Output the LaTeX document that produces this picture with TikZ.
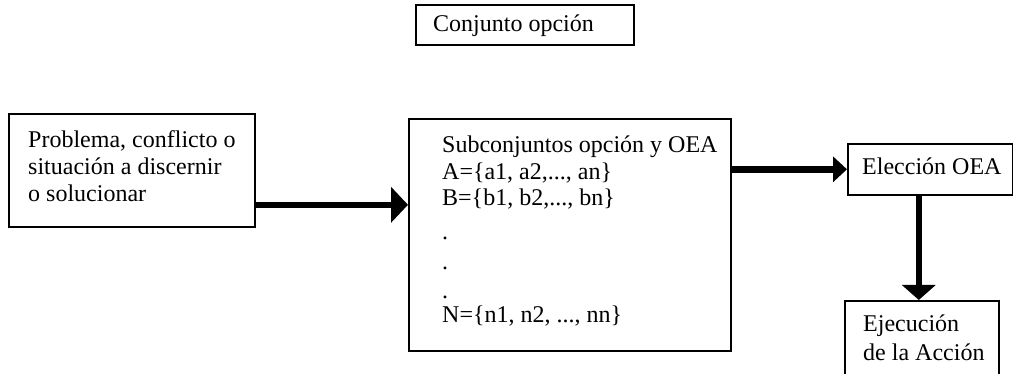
\documentclass[tikz,border=0pt]{standalone}
\usepackage{fontspec}
\setmainfont{Liberation Serif}
\usetikzlibrary{arrows.meta}
\begin{document}
\begin{tikzpicture}[x=1pt,y=-1pt,
  box/.style={draw, line width=1.6pt, inner sep=0pt, anchor=north west},
  txt/.style={inner sep=0pt, anchor=base west, font=\fontsize{24}{27}\selectfont},
  arrowL/.style={line width=6.5pt, -{Triangle[length=17pt,width=35pt]}},
  arrowR/.style={line width=6.5pt, -{Triangle[length=14pt,width=25pt]}},
  arrowD/.style={line width=6.5pt, -{Triangle[length=15pt,width=33pt]}}]
\useasboundingbox (0,0) rectangle (1013,374);

% top box
\node[box, minimum width=218pt, minimum height=40pt] (tbox) at (415,4) {};
\node[txt] (ttxt) at (433,32) {Conjunto opción};

% left box
\node[box, minimum width=246pt, minimum height=113pt] (lbox) at (8,113) {};
\node[txt] (l1) at (28,148) {Problema, conflicto o};
\node[txt] (l2) at (28,175) {situación a discernir};
\node[txt] (l3) at (28,202) {o solucionar};

% middle box
\node[box, minimum width=322pt, minimum height=232pt] (mbox) at (408,118) {};
\node[txt] (m1) at (442,153) {Subconjuntos opción y OEA};
\node[txt] (m2) at (442,179.5) {A=\{a1, a2,..., an\}};
\node[txt] (m3) at (442,206) {B=\{b1, b2,..., bn\}};
\node[txt] (m4) at (442,240) {.};
\node[txt] (m5) at (442,270) {.};
\node[txt] (m6) at (442,299) {.};
\node[txt] (m7) at (442,323) {N=\{n1, n2, ..., nn\}};

% Eleccion box
\node[box, minimum width=165pt, minimum height=51pt] (ebox) at (847,143) {};
\node[txt] (etxt) at (862,175) {Elección OEA};

% Ejecucion box
\node[box, minimum width=154pt, minimum height=80pt] (jbox) at (844,300) {};
\node[txt] (j1) at (863,332) {Ejecución};
\node[txt] (j2) at (863,360) {de la Acción};

% arrows
\coordinate (a1) at ([yshift=-34.5pt]lbox.east);
\draw[arrowL] (a1) -- (a1 -| mbox.west);
\draw[arrowR] (ebox.west -| mbox.east) -- (ebox.west);
\coordinate (d1) at ([xshift=-3pt]jbox.north);
\draw[arrowD] (d1 |- ebox.south) -- (d1);
\end{tikzpicture}
\end{document}
